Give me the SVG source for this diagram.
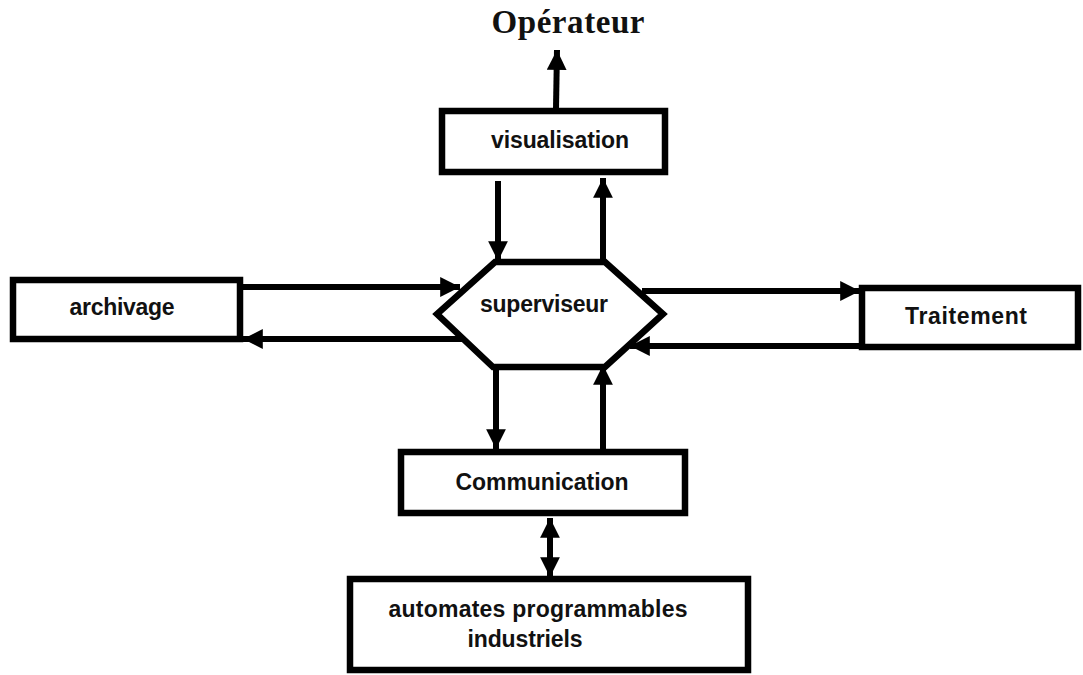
<svg xmlns="http://www.w3.org/2000/svg" width="1083" height="675" viewBox="0 0 1083 675">
  <defs>
    <marker id="arrow" viewBox="0 0 10 10" refX="10" refY="5" markerWidth="3.4" markerHeight="3.3" markerUnits="strokeWidth" orient="auto-start-reverse">
      <path d="M0,0 L10,5 L0,10 Z" fill="#000"/>
    </marker>
    <style>
      .box { fill: #fff; stroke: #000; stroke-width: 6.5; }
      .lbl { font-family: "Liberation Sans", Arial, sans-serif; font-weight: bold; font-size: 23px; fill: #111; text-anchor: middle; }
      .title { font-family: "Liberation Serif", "Times New Roman", serif; font-weight: bold; font-size: 33px; fill: #111; text-anchor: middle; }
      .link { fill: none; stroke: #000; stroke-width: 6; marker-end: url(#arrow); }
    </style>
  </defs>

  <rect width="1083" height="675" fill="#fff"/>

  <text class="title" x="568" y="33" textLength="153">Opérateur</text>

  <!-- connectors -->
  <g id="connectors">
    <!-- visualisation -> operateur -->
    <line class="link" x1="556" y1="108" x2="557" y2="50"/>
    <!-- visualisation <-> superviseur -->
    <line class="link" x1="498" y1="181" x2="498" y2="261"/>
    <line class="link" x1="603" y1="260" x2="603" y2="178"/>
    <!-- archivage <-> superviseur -->
    <line class="link" x1="243" y1="287" x2="460" y2="287"/>
    <line class="link" x1="465" y1="339" x2="243" y2="339"/>
    <!-- superviseur <-> traitement -->
    <line class="link" x1="642" y1="291" x2="860" y2="291"/>
    <line class="link" x1="860" y1="346" x2="630" y2="346"/>
    <!-- superviseur <-> communication -->
    <line class="link" x1="496" y1="367" x2="496" y2="449"/>
    <line class="link" x1="603" y1="449" x2="603" y2="365"/>
    <!-- communication <-> automates (double-headed) -->
    <line class="link" x1="550" y1="540" x2="550" y2="518"/>
    <line class="link" x1="550" y1="530" x2="550" y2="577"/>
  </g>

  <g id="visualisation">
    <rect class="box" x="442" y="111" width="223" height="61"/>
    <text class="lbl" x="560" y="148" textLength="138">visualisation</text>
  </g>

  <g id="superviseur">
    <polygon class="box" points="495,262 605,262 663,314 605,367 493,367 437,314"/>
    <text class="lbl" x="544" y="312" textLength="128">superviseur</text>
  </g>

  <g id="archivage">
    <rect class="box" x="13" y="280" width="227" height="59"/>
    <text class="lbl" x="122" y="315" textLength="105">archivage</text>
  </g>

  <g id="traitement">
    <rect class="box" x="862" y="288" width="216" height="59"/>
    <text class="lbl" x="966" y="324" textLength="122">Traitement</text>
  </g>

  <g id="communication">
    <rect class="box" x="401" y="452" width="284" height="61"/>
    <text class="lbl" x="542" y="490" textLength="173">Communication</text>
  </g>

  <g id="automates">
    <rect class="box" x="350" y="579" width="398" height="91"/>
    <text class="lbl" x="538" y="617" textLength="299">automates programmables</text>
    <text class="lbl" x="525" y="647" textLength="115">industriels</text>
  </g>
</svg>
